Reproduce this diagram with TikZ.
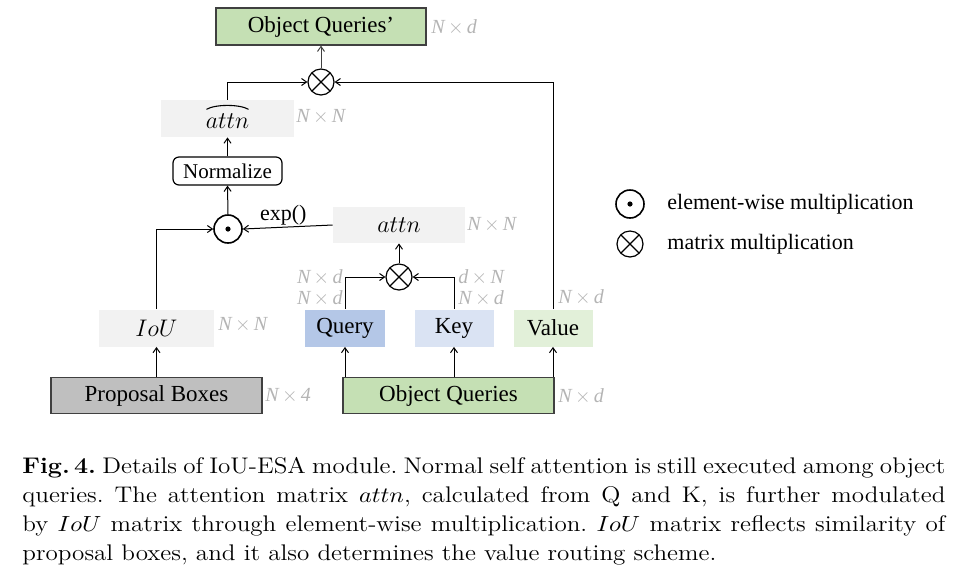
\documentclass[tikz,border=0pt]{standalone}
\usepackage{fontspec}
\usepackage{amsmath}
\usepackage{graphicx}
\newfontfamily\tnr{Liberation Serif}
\usetikzlibrary{arrows.meta}
\definecolor{dimgray}{HTML}{B4B4B4}
\definecolor{grnA}{HTML}{C5E0B4}
\definecolor{qblue}{HTML}{B4C7E7}
\definecolor{kblue}{HTML}{DAE3F3}
\definecolor{vgreen}{HTML}{E2F0D9}
\definecolor{lgray}{HTML}{F2F2F2}
\definecolor{pgray}{HTML}{BFBFBF}
\definecolor{bord}{HTML}{404040}
\tikzset{
  lbl/.style={font=\tnr\fontsize{11}{13}\selectfont, inner sep=0pt},
  dimlbl/.style={font=\tnr\itshape\fontsize{10}{12}\selectfont, text=dimgray, inner sep=0pt},
  boxA/.style={draw=bord, line width=0.6pt, inner sep=0pt, font=\tnr\fontsize{11.5}{13}\selectfont},
  flatbox/.style={inner sep=0pt, font=\tnr\fontsize{11.5}{13}\selectfont},
  otimesnode/.style={circle, draw, line width=0.6pt, minimum size=13pt, inner sep=0pt, path picture={
     \draw[line width=0.6pt] (path picture bounding box.north west) -- (path picture bounding box.south east)
       (path picture bounding box.north east) -- (path picture bounding box.south west);}},
  odotnode/.style={circle, draw, line width=0.8pt, minimum size=14pt, inner sep=0pt, path picture={
     \fill (path picture bounding box.center) circle (1.3pt);}},
  conn/.style={-{Straight Barb[length=2.5pt,width=3.5pt]}, line width=0.5pt},
}
\begin{document}
\begin{tikzpicture}[x=0.5pt,y=-0.5pt]
\useasboundingbox (0,0) rectangle (971,586);
% top output
\node[boxA, fill=grnA, minimum width=105pt, minimum height=18.5pt] (oqp) at (321,26.5) {Object Queries’};
\node[dimlbl, anchor=west] (d1) at (431,27) {N\,$\times$\,d};
\node[otimesnode] (mt) at (321,82) {};
% attn hat
\node[flatbox, fill=lgray, minimum width=66.5pt, minimum height=18.5pt] (ah) at (227.5,118.5) {};
\node[inner sep=0pt, font=\fontsize{11.5}{13}\selectfont] (ahtxt) at (227.5,121) {$attn$};
\draw[line width=0.55pt] ([xshift=-10.5pt,yshift=4.6pt]ah.center) .. controls ([xshift=-6pt,yshift=7.2pt]ah.center) and ([xshift=6pt,yshift=7.2pt]ah.center) .. ([xshift=10.5pt,yshift=4.6pt]ah.center);
\node[dimlbl, anchor=west] (d2) at (296,117) {N\,$\times$\,N};
\node[draw, rounded corners=3pt, line width=0.6pt, minimum width=54.5pt, minimum height=14pt, inner sep=0pt, font=\tnr\fontsize{10.5}{12}\selectfont] (norm) at (227.5,171) {Normalize};
\node[odotnode] (ew) at (228,229) {};
% attn
\node[flatbox, fill=lgray, minimum width=66pt, minimum height=18pt] (at) at (399,225) {$attn$};
\node[dimlbl, anchor=west] (d3) at (467,225) {N\,$\times$\,N};
\node[otimesnode] (mm) at (399,277) {};
% Q K V
\node[flatbox, fill=qblue, minimum width=40pt, minimum height=18.5pt] (q) at (345,328) {Query};
\node[flatbox, fill=kblue, minimum width=39.5pt, minimum height=18.5pt] (k) at (454,328) {Key};
\node[flatbox, fill=vgreen, minimum width=39.5pt, minimum height=18.5pt] (v) at (553,328) {Value};
\node[flatbox, fill=lgray, minimum width=57.5pt, minimum height=18.5pt] (iou) at (156.5,328) {$IoU$};
\node[dimlbl, anchor=west] (d4) at (218,325) {N\,$\times$\,N};
\node[dimlbl, anchor=east] (d5) at (343,277) {N\,$\times$\,d};
\node[dimlbl, anchor=east] (d6) at (343,298) {N\,$\times$\,d};
\node[dimlbl, anchor=west] (d7) at (458,277) {d\,$\times$\,N};
\node[dimlbl, anchor=west] (d8) at (458,298) {N\,$\times$\,d};
\node[dimlbl, anchor=west] (d9) at (558,297) {N\,$\times$\,d};
% bottom
\node[boxA, fill=pgray, minimum width=105.5pt, minimum height=18pt] (pb) at (156.5,395.5) {Proposal Boxes};
\node[dimlbl, anchor=west] (d10) at (265,396) {N\,$\times$\,4};
\node[boxA, fill=grnA, minimum width=105.5pt, minimum height=18pt] (oq) at (448.5,395.5) {Object Queries};
\node[dimlbl, anchor=west] (d11) at (558,396) {N\,$\times$\,d};
% legend
\node[odotnode] (lg1) at (630,204) {};
\node[lbl, anchor=west] (lt1) at (667,204) {element-wise multiplication};
\node[otimesnode] (lg2) at (630,244) {};
\node[lbl, anchor=west] (lt2) at (667,244) {matrix multiplication};
% connectors
\draw[conn] (pb.north) -- (iou.south);
\draw[conn] (oq.north -| q) -- (q.south);
\draw[conn] (oq.north -| k) -- (k.south);
\draw[conn] (oq.north -| v) -- (v.south);
\draw[conn] (q.north) |- (mm.west);
\draw[conn] (k.north) |- (mm.east);
\draw[conn] (mm.north) -- (at.south);
\draw[conn] (at.west) -- node[lbl, above, pos=0.55, yshift=1pt] {exp()} (ew.east);
\draw[conn] (iou.north) |- (ew.west);
\draw[conn] (ew.north) -- (norm.south);
\draw[conn] (norm.north) -- (ah.south);
\draw[conn] (ah.north) |- (mt.west);
\draw[conn] (v.north) |- (mt.east);
\draw[conn, draw=bord] (mt.north) -- (oqp.south);
% caption
\node[anchor=north west, inner sep=0pt] (cap) at (22,457)
{\scalebox{1.11}[1]{\parbox[t]{415.8pt}{\fontsize{11.3}{14.5}\selectfont\frenchspacing
\textbf{Fig.\,4.} Details of IoU-ESA module. Normal self attention is still executed among object\linebreak
queries. The attention matrix $attn$, calculated from Q and K, is further modulated\linebreak
by $IoU$ matrix through element-wise multiplication. $IoU$ matrix reflects similarity of\linebreak
proposal boxes, and it also determines the value routing scheme.}}};
\end{tikzpicture}
\end{document}
